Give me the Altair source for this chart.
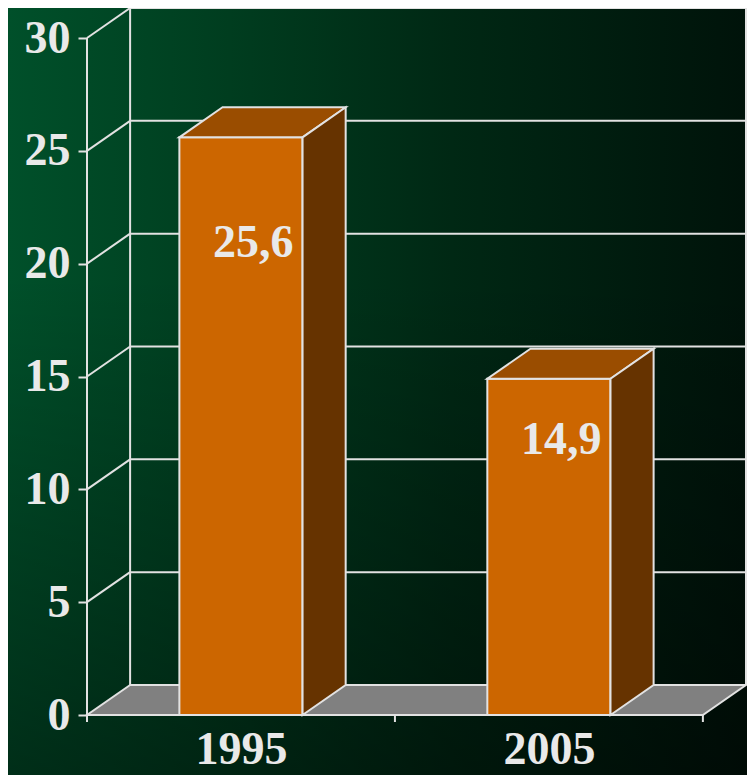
import altair as alt
import pandas as pd

# ---- data ----
years = ["1995", "2005"]
values = [25.6, 14.9]
value_labels = ["25,6", "14,9"]
y_ticks = [0, 5, 10, 15, 20, 25, 30]

# ---- geometry / style constants ----
NCAT = len(years)
YMAX = 30
DX = 0.14      # depth offset (category units)
DY = 1.33      # depth offset (value units)
BAR_W = 0.4
TICK_DOWN = 0.31
W, H = 659, 707
PAD = {"left": 79, "top": 0, "right": 1, "bottom": 60}
FONT = "Liberation Serif"
LINE = "#e2e2e2"
TEXT = "#e9e9e9"

xscale = alt.Scale(domain=[0, NCAT + DX], nice=False, zero=False)
yscale = alt.Scale(domain=[0, YMAX + DY], nice=False, zero=False)

label_expr = "".join(f"datum.value < {i + 1} ? '{y}' : " for i, y in enumerate(years)) + "''"

xaxis = alt.Axis(values=[i + 0.5 for i in range(NCAT)], labelExpr=label_expr, ticks=False,
                 tickSize=0, domain=False, grid=False, title=None, labelFont=FONT,
                 labelFontSize=46, labelFontWeight="bold", labelColor=TEXT,
                 labelPadding=12, labelAngle=0, labelFlush=False, labelOverlap=False,
                 zindex=2)
yaxis = alt.Axis(values=y_ticks, domain=False, grid=False, ticks=True, tickSize=9,
                 tickColor=LINE, tickWidth=2, title=None, labelFont=FONT,
                 labelFontSize=46, labelFontWeight="bold", labelColor=TEXT,
                 labelPadding=8, labelOverlap=False, labelFlush=False, zindex=2)


def X(f):
    return alt.X(f"{f}:Q", scale=xscale, axis=xaxis)


def Y(f):
    return alt.Y(f"{f}:Q", scale=yscale, axis=yaxis)


one = pd.DataFrame({"k": [0]})

bg = alt.Chart(one).mark_rect(
    fill=alt.Gradient(gradient="linear", x1=0, x2=1, y1=0, y2=0, stops=[
        alt.GradientStop(color="#00502a", offset=0),
        alt.GradientStop(color="#003d1f", offset=0.3),
        alt.GradientStop(color="#002814", offset=0.6),
        alt.GradientStop(color="#00130a", offset=1),
    ])
).encode(x=alt.value(-PAD["left"]), x2=alt.value(W + PAD["right"]),
         y=alt.value(-PAD["top"]), y2=alt.value(H + PAD["bottom"]))

bg_shade = alt.Chart(one).mark_rect(
    fill=alt.Gradient(gradient="linear", x1=0, x2=0, y1=0, y2=1, stops=[
        alt.GradientStop(color="rgba(0,0,0,0)", offset=0),
        alt.GradientStop(color="rgba(0,0,0,0)", offset=0.35),
        alt.GradientStop(color="rgba(0,0,0,0.42)", offset=1),
    ])
).encode(x=alt.value(-PAD["left"]), x2=alt.value(W + PAD["right"]),
         y=alt.value(-PAD["top"]), y2=alt.value(H + PAD["bottom"]))

# floor
floor_df = pd.DataFrame({"y": [0, DY], "xl": [0, DX], "xr": [NCAT, NCAT + DX]})
floor = alt.Chart(floor_df).mark_area(
    orient="horizontal", fill="#808080", stroke=LINE, strokeWidth=2, strokeJoin="miter"
).encode(y=Y("y"), x=X("xl"), x2="xr")

# wall lines, grid, axes rules
rows = []
for v in y_ticks:
    if v > 0:
        rows.append((DX, v + DY, NCAT + DX, v + DY))
        rows.append((0, v, DX, v + DY))
rows.append((DX, DY, DX, YMAX + DY))
rows.append((NCAT + DX, DY, NCAT + DX, YMAX + DY))
rows.append((0, -TICK_DOWN, 0, YMAX))
for i in range(NCAT + 1):
    rows.append((i, 0, i, -TICK_DOWN))
rules_df = pd.DataFrame(rows, columns=["x", "y", "x2", "y2"])
rules = alt.Chart(rules_df).mark_rule(color=LINE, strokeWidth=2).encode(
    x=X("x"), y=Y("y"), x2="x2", y2="y2")

# bars
bar_rows, top_rows, side_rows, lab_rows = [], [], [], []
for i, (yr, v, lab) in enumerate(zip(years, values, value_labels)):
    c = i + 0.5
    x0, x1 = c - BAR_W / 2, c + BAR_W / 2
    bar_rows.append({"year": yr, "x0": x0, "x1": x1, "y0": 0, "v": v})
    top_rows.append({"year": yr, "y": v, "xl": x0, "xr": x1})
    top_rows.append({"year": yr, "y": v + DY, "xl": x0 + DX, "xr": x1 + DX})
    side_rows.append({"year": yr, "x": x1, "yb": 0, "yt": v})
    side_rows.append({"year": yr, "x": x1 + DX, "yb": DY, "yt": v + DY})
    lab_rows.append({"year": yr, "lx": c + 0.04, "ly": v * 0.817, "label": lab})

front = alt.Chart(pd.DataFrame(bar_rows)).mark_rect(
    fill="#cc6600", stroke=LINE, strokeWidth=2
).encode(x=X("x0"), x2="x1", y=Y("y0"), y2="v")

top = alt.Chart(pd.DataFrame(top_rows)).mark_area(
    orient="horizontal", fill="#9a4d00", stroke=LINE, strokeWidth=2, strokeJoin="miter"
).encode(y=Y("y"), x=X("xl"), x2="xr", detail="year:N")

side = alt.Chart(pd.DataFrame(side_rows)).mark_area(
    orient="vertical", fill="#663300", stroke=LINE, strokeWidth=2, strokeJoin="miter"
).encode(x=X("x"), y=Y("yb"), y2="yt", detail="year:N")

labels = alt.Chart(pd.DataFrame(lab_rows)).mark_text(
    font=FONT, fontSize=46, fontWeight="bold", color=TEXT, align="center", baseline="middle"
).encode(x=X("lx"), y=Y("ly"), text="label:N")

chart = alt.layer(bg, bg_shade, floor, rules, front, top, side, labels).properties(
    width=W, height=H, padding=PAD, autosize=alt.AutoSizeParams(type="none"),
    background="#002a15"
).configure_view(stroke=None)

chart.save("out.html", embed_options={"renderer": "svg", "actions": False})
